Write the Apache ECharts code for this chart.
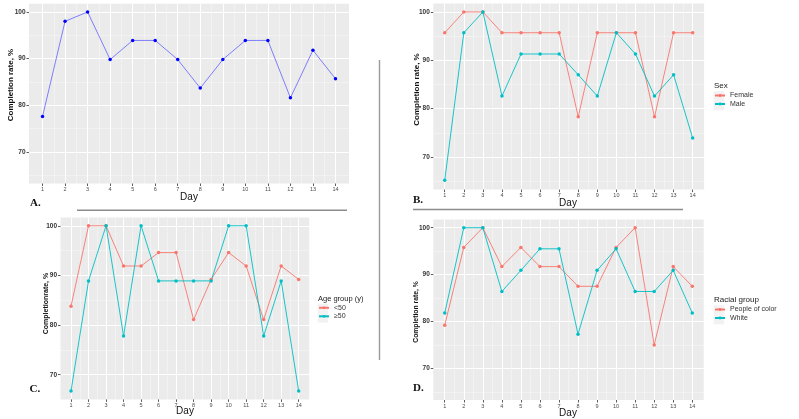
<!DOCTYPE html>
<html>
<head>
<meta charset="utf-8">
<script src="https://cdn.jsdelivr.net/npm/echarts@6/dist/echarts.min.js"></script>
<style>
html,body{margin:0;padding:0;background:#fff;}
#chart{width:799px;height:419px;}
</style>
</head>
<body>
<div id="chart"></div>
<script>
// ---- data ----
const days = [1, 2, 3, 4, 5, 6, 7, 8, 9, 10, 11, 12, 13, 14];
const dayMinor = [1.5, 2.5, 3.5, 4.5, 5.5, 6.5, 7.5, 8.5, 9.5, 10.5, 11.5, 12.5, 13.5];
const yMajor = [70, 80, 90, 100];
const yMinor = [65, 75, 85, 95];

const overall = [77.6, 98.0, 100, 89.8, 93.9, 93.9, 89.8, 83.7, 89.8, 93.9, 93.9, 81.6, 91.8, 85.7];
const female = [95.7, 100, 100, 95.7, 95.7, 95.7, 95.7, 78.3, 95.7, 95.7, 95.7, 78.3, 95.7, 95.7];
const male = [65.2, 95.7, 100, 82.6, 91.3, 91.3, 91.3, 87.0, 82.6, 95.7, 91.3, 82.6, 87.0, 73.9];
const under50 = [83.8, 100, 100, 91.9, 91.9, 94.6, 94.6, 81.1, 89.2, 94.6, 91.9, 81.1, 91.9, 89.2];
const over50 = [66.7, 88.9, 100, 77.8, 100, 88.9, 88.9, 88.9, 88.9, 100, 100, 77.8, 88.9, 66.7];
const peopleOfColor = [79.2, 95.8, 100, 91.7, 95.8, 91.7, 91.7, 87.5, 87.5, 95.8, 100, 75.0, 91.7, 87.5];
const white = [81.8, 100, 100, 86.4, 90.9, 95.5, 95.5, 77.3, 90.9, 95.5, 86.4, 86.4, 90.9, 81.8];

const RED = '#F8766D', TEAL = '#00BFC4';
const SANS = 'Liberation Sans, Arial, sans-serif';
const SERIF = 'Liberation Serif, Times New Roman, serif';

// ---- layout ----
const panels = [
  {left: 29, top: 3.8, width: 320, height: 179.7, ymin: 63.25, ymax: 101.75},
  {left: 433.3, top: 3.5, width: 270.8, height: 186.1, ymin: 63.25, ymax: 101.75},
  {left: 60.5, top: 217.5, width: 248.7, height: 181.9, ymin: 65.03, ymax: 101.67},
  {left: 433.3, top: 219.5, width: 270.4, height: 180.5, ymin: 63.25, ymax: 101.75}
];
const XMIN = 0.4, XMAX = 14.6;

const grid = [], xAxis = [], yAxis = [];
panels.forEach((p, i) => {
  grid.push({left: p.left, top: p.top, width: p.width, height: p.height,
    show: true, backgroundColor: '#EBEBEB', borderWidth: 0, containLabel: false});
  xAxis.push({type: 'value', gridIndex: i, min: XMIN, max: XMAX,
    axisLine: {show: false},
    axisTick: {show: true, customValues: days, length: 2.5, lineStyle: {color: '#333', width: 0.8}},
    axisLabel: {customValues: days, fontSize: 5.5, color: '#4D4D4D', margin: 3, fontFamily: SANS},
    splitLine: {show: true, lineStyle: {color: '#FFFFFF', width: 1}}});
  xAxis.push({type: 'value', gridIndex: i, min: XMIN, max: XMAX,
    axisLine: {show: false},
    axisTick: {show: false, customValues: dayMinor},
    axisLabel: {show: false, customValues: dayMinor},
    splitLine: {show: true, lineStyle: {color: '#F7F7F7', width: 0.6}}});
  yAxis.push({type: 'value', gridIndex: i, min: p.ymin, max: p.ymax,
    axisLine: {show: false},
    axisTick: {show: true, customValues: yMajor, length: 2.5, lineStyle: {color: '#333', width: 0.8}},
    axisLabel: {customValues: yMajor, fontSize: 6.5, fontWeight: 'bold', color: '#333', margin: 3.5, fontFamily: SANS},
    splitLine: {show: true, lineStyle: {color: '#FFFFFF', width: 1}}});
  yAxis.push({type: 'value', gridIndex: i, min: p.ymin, max: p.ymax,
    axisLine: {show: false},
    axisTick: {show: false, customValues: yMinor},
    axisLabel: {show: false, customValues: yMinor},
    splitLine: {show: true, lineStyle: {color: '#F7F7F7', width: 0.6}}});
});

function mk(name, vals, panel, lineColor, pointColor) {
  return {
    name: name, type: 'line', xAxisIndex: panel * 2, yAxisIndex: panel * 2,
    data: days.map((d, i) => [d, vals[i]]),
    symbol: 'circle', symbolSize: 3.5, showSymbol: true,
    lineStyle: {color: lineColor, width: 0.9},
    itemStyle: {color: pointColor},
    emphasis: {disabled: true}, animation: false, z: 3
  };
}

const series = [
  mk('Overall', overall, 0, '#7070FF', '#0000FF'),
  mk('Female', female, 1, RED, RED),
  mk('Male', male, 1, TEAL, TEAL),
  mk('<50', under50, 2, RED, RED),
  mk('≥50', over50, 2, TEAL, TEAL),
  mk('People of color', peopleOfColor, 3, RED, RED),
  mk('White', white, 3, TEAL, TEAL)
];

const legendBase = {orient: 'vertical', itemWidth: 10, itemHeight: 3.5, itemGap: 1.5, padding: 0,
  selectedMode: false, textStyle: {fontSize: 7, color: '#333', fontFamily: SANS}};
const legend = [
  Object.assign({}, legendBase, {data: ['Female', 'Male'], left: 714, top: 92}),
  Object.assign({}, legendBase, {data: ['<50', '≥50'], left: 318, top: 304.3}),
  Object.assign({}, legendBase, {data: ['People of color', 'White'], left: 714, top: 306})
];

function txt(s, x, y, font, opts) {
  opts = opts || {};
  return {type: 'text', x: x, y: y, rotation: opts.rot || 0, z: 10,
    style: {text: s, x: 0, y: 0, font: font, fill: opts.fill || '#111',
      textAlign: opts.align || 'center', textVerticalAlign: 'middle'}};
}
function keyRect(x, y) {
  return {type: 'rect', shape: {x: x, y: y, width: 10.5, height: 9.5}, style: {fill: '#F2F2F2'}, z: 0};
}
const R90 = Math.PI / 2;
const graphic = [
  // separators
  {type: 'line', shape: {x1: 77, y1: 210.3, x2: 347, y2: 210.3}, style: {stroke: '#8C8C8C', lineWidth: 1.6}},
  {type: 'line', shape: {x1: 413, y1: 209.5, x2: 683, y2: 209.5}, style: {stroke: '#8C8C8C', lineWidth: 1.6}},
  {type: 'line', shape: {x1: 379.5, y1: 60, x2: 379.5, y2: 360}, style: {stroke: '#9A9A9A', lineWidth: 1.4}},
  // axis titles
  txt('Completion rate, %', 11, 85, 'bold 8px ' + SANS, {rot: R90}),
  txt('Day', 189, 197, '10px ' + SANS),
  txt('Completion rate, %', 416.5, 89.5, 'bold 8px ' + SANS, {rot: R90}),
  txt('Day', 568, 203, '10px ' + SANS),
  txt('Completionrate, %', 46, 303.5, 'bold 7px ' + SANS, {rot: R90}),
  txt('Day', 185, 411, '10px ' + SANS),
  txt('Completion rate, %', 416, 312, 'bold 6.8px ' + SANS, {rot: R90}),
  txt('Day', 568, 413, '10px ' + SANS),
  // panel letters
  txt('A.', 30, 203.5, 'bold 11px ' + SERIF, {align: 'left'}),
  txt('B.', 413, 200.5, 'bold 11px ' + SERIF, {align: 'left'}),
  txt('C.', 29.5, 389, 'bold 11px ' + SERIF, {align: 'left'}),
  txt('D.', 413, 388, 'bold 11px ' + SERIF, {align: 'left'}),
  // legend titles
  txt('Sex', 714, 86, '8px ' + SANS, {align: 'left', fill: '#222'}),
  txt('Age group (y)', 318, 299.3, '7.5px ' + SANS, {align: 'left', fill: '#222'}),
  txt('Racial group', 714, 299.5, '8px ' + SANS, {align: 'left', fill: '#222'}),
  // legend key backgrounds
  keyRect(713.7, 91.3), keyRect(713.7, 100.8),
  keyRect(317.7, 303.6), keyRect(317.7, 313.1),
  keyRect(713.7, 305.3), keyRect(713.7, 314.8)
];

const chart = echarts.init(document.getElementById('chart'), null, {renderer: 'canvas'});
chart.setOption({
  animation: false,
  backgroundColor: '#FFFFFF',
  grid: grid, xAxis: xAxis, yAxis: yAxis,
  legend: legend, series: series, graphic: graphic,
  tooltip: {show: false}
});
</script>
</body>
</html>
